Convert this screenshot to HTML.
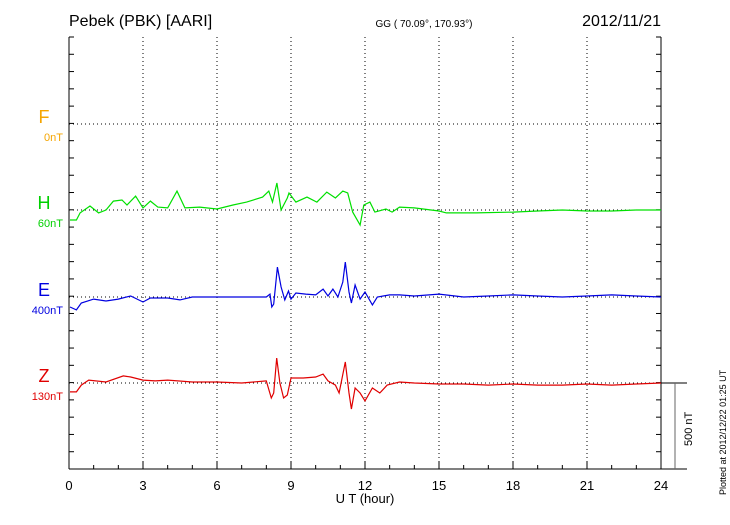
<!DOCTYPE html>
<html><head><meta charset="utf-8"><style>
body{margin:0;background:#fff;}
svg text{font-family:"Liberation Sans",sans-serif;}
</style></head><body>
<svg id="chart" width="730" height="520" xmlns="http://www.w3.org/2000/svg">
<text x="69" y="26" font-size="16">Pebek (PBK)  [AARI]</text>
<text x="424" y="27" font-size="10" text-anchor="middle">GG ( 70.09°, 170.93°)</text>
<text x="661" y="26" font-size="16" text-anchor="end">2012/11/21</text>
<text x="365" y="503" font-size="13" text-anchor="middle">U T (hour)</text>
<text transform="translate(726,495) rotate(-90)" font-size="9">Plotted at 2012/12/22 01:25 UT</text>
<g id="grid"></g><g id="axes"></g><g id="series"></g><g id="labels"></g>
</svg>
<script>
const hours=[0,3,6,9,12,15,18,21,24];
const channelNames=["F","H","E","Z"];
const channelOffsets=["0nT","60nT","400nT","130nT"];
const hT=[0.04,0.3,0.45,0.85,1.2,1.5,1.8,2.15,2.35,2.7,3.0,3.3,3.6,4.0,4.38,4.7,5.3,6.0,6.65,7.2,7.85,8.1,8.25,8.43,8.6,8.85,8.92,9.2,9.65,10.05,10.45,10.8,11.1,11.3,11.5,11.8,11.95,12.2,12.4,12.85,13.1,13.4,14,15,15.3,16.5,18,19,20,21,22,23,24];
const hV=[-58,-58,-17,23,-17,0,52,58,29,81,12,52,17,12,110,12,17,6,29,46,75,110,46,157,0,70,99,46,75,46,104,70,110,99,-12,-87,29,46,-12,6,-12,17,12,-6,-17,-17,-12,-6,0,-6,-6,0,0];
const eT=[0.04,0.3,0.5,1.0,1.5,2.0,2.5,3.0,3.3,4.0,4.5,5.0,6.0,7.0,8.0,8.15,8.22,8.3,8.45,8.6,8.75,8.9,9.0,9.2,9.6,10.0,10.3,10.5,10.7,10.9,11.1,11.2,11.35,11.45,11.6,11.8,12.0,12.3,12.5,13.0,13.4,14,15,16,17,18,19,20,21,22,23,24];
const eV=[-58,-75,-35,-12,-23,-12,6,-29,-6,-6,-17,0,0,0,0,17,-58,-41,174,58,-17,35,-12,23,17,12,46,6,46,0,87,203,29,-35,70,-12,29,-46,0,12,12,6,17,0,6,12,6,0,6,12,6,0];
const zT=[0.04,0.3,0.5,0.8,1.5,2.2,2.5,3.0,3.5,4.0,5.0,6.0,7.0,8.0,8.2,8.3,8.42,8.55,8.7,8.85,9.0,9.5,10.0,10.3,10.5,10.8,10.95,11.2,11.35,11.45,11.6,11.8,12.0,12.3,12.6,12.9,13.4,14,15,16,17,18,19,20,21,22,23,24];
const zV=[-52,-52,-12,17,6,41,35,17,12,17,6,6,0,12,-87,-58,145,0,-87,-70,29,29,35,52,12,-12,-58,122,-58,-151,-29,-58,-104,-29,-58,-12,6,0,-6,-6,-12,-6,-12,-12,-6,-12,-6,0];
const series=[{t:hT,v:hV,c:"#00e000",base:210,name:"h-component-line"},{t:eT,v:eV,c:"#0000e0",base:297,name:"e-component-line"},{t:zT,v:zV,c:"#e00000",base:383,name:"z-component-line"}];
const X0=69,X1=661,Y0=37,Y1=469,PXNT=86/500;
const xs=h=>X0+(X1-X0)*h/24;
const NS="http://www.w3.org/2000/svg";
function mk(tag,attrs,parent){const e=document.createElementNS(NS,tag);for(const k in attrs)e.setAttribute(k,attrs[k]);parent.appendChild(e);return e;}
const grid=document.getElementById('grid'),axes=document.getElementById('axes'),ser=document.getElementById('series'),lab=document.getElementById('labels');
hours.forEach((h,i)=>{
 if(i>0&&i<hours.length-1){const l=mk('line',{x1:xs(h),x2:xs(h),y1:Y0,y2:Y1,stroke:'#000','stroke-dasharray':'1,3','stroke-width':1},grid);
 
 }
 const t=mk('text',{x:xs(h),y:490,'font-size':13,'text-anchor':'middle'},lab);t.textContent=h;
 
 
});
[124,210,297,383].forEach(y=>{const l=mk('line',{x1:X0,x2:X1,y1:y,y2:y,stroke:'#000','stroke-dasharray':'1,3'},grid);
 
 });
for(let h=0;h<=24;h++){const len=h%3==0?7:4;const l=mk('line',{x1:xs(h),x2:xs(h),y1:Y1,y2:Y1-len,stroke:'#000'},axes);
 
 }
for(let k=0;k<=25;k++){const y=Y0+k*(Y1-Y0)/25;
 const a=mk('line',{x1:X0,x2:X0+5,y1:y,y2:y,stroke:'#000'},axes);
 
 
 const b=mk('line',{x1:X1,x2:X1-5,y1:y,y2:y,stroke:'#000'},axes);
 
 }
[[X0,Y0,X0,Y1],[X1,Y0,X1,Y1],[X0,Y1,X1+26,Y1],[X1,383,X1+26,383],[675,383,675,Y1]].forEach(p=>{const l=mk('line',{x1:p[0],y1:p[1],x2:p[2],y2:p[3],stroke:p[0]==675?'#666':'#000'},axes);
 
 });
const sb=mk('text',{transform:'translate(692,446) rotate(-90)','font-size':11},lab);sb.textContent='500 nT';


series.forEach(s=>{const d=s.t.map((t,i)=>(i?'L':'M')+xs(t).toFixed(1)+','+(s.base-s.v[i]*PXNT).toFixed(1)).join('');
 const p=mk('path',{d:d,fill:'none',stroke:s.c,'stroke-width':1.2},ser);
 
 });
const colors=["#f5a500","#00d000","#0000e0","#e00000"],ly=[124,210,297,383];
channelNames.forEach((n,i)=>{const a=mk('text',{x:44,y:ly[i]-1,'font-size':18,'text-anchor':'middle',fill:colors[i]},lab);a.textContent=n;
 
 
 const b=mk('text',{x:63,y:ly[i]+17,'font-size':11,'text-anchor':'end',fill:colors[i]},lab);b.textContent=channelOffsets[i];
 
 });
</script>
</body></html>
